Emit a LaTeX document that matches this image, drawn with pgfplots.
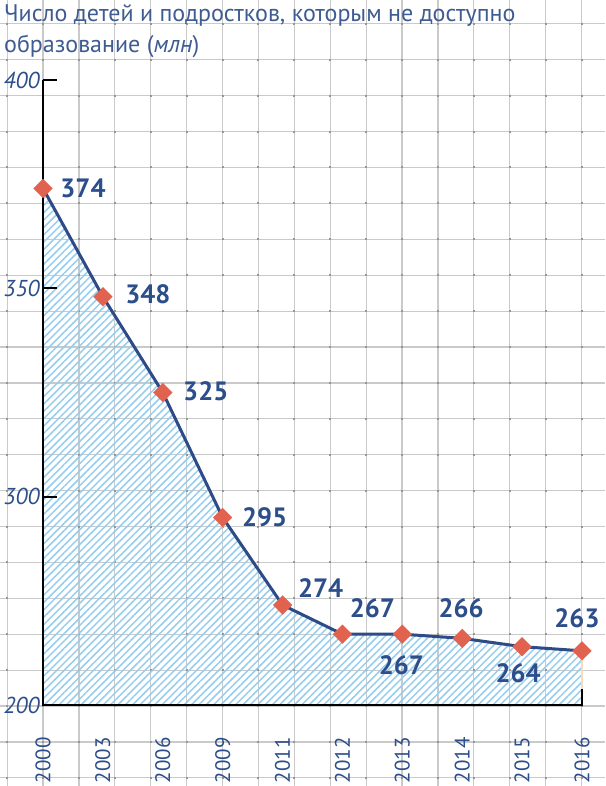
\documentclass[border=0pt]{standalone}
\usepackage{fontspec}
\setmainfont{PT Sans}
\usepackage{pgfplots}
\pgfplotsset{compat=1.18}
\usetikzlibrary{patterns.meta}
\definecolor{gridc}{RGB}{202,202,202}
\definecolor{dotc}{RGB}{150,150,150}
\definecolor{lineblue}{RGB}{45,75,135}
\definecolor{labblue}{RGB}{44,78,138}
\definecolor{titleblue}{RGB}{62,92,145}
\definecolor{markred}{RGB}{226,98,80}
\definecolor{hatch}{RGB}{150,205,238}
\definecolor{peach}{RGB}{245,220,190}
\tikzset{lab/.style={font=\fontsize{26.5}{30}\selectfont\bfseries, text=labblue, inner sep=0pt, anchor=center}}
\begin{document}
\begin{tikzpicture}
\useasboundingbox (0,-786pt) rectangle (605pt,0);
\clip (0,-786pt) rectangle (605pt,0);
\foreach \k in {-1,...,16} { \draw[gridc, line width=1.2pt] ({43pt+\k*35.9pt},0) -- ({43pt+\k*35.9pt},-786pt); }
\foreach \k in {-3,...,20} { \draw[gridc, line width=1.2pt] (0,{-706pt+\k*35.9pt}) -- (605pt,{-706pt+\k*35.9pt}); }
\foreach \i in {-1,...,16} { \foreach \j in {-2,...,19} { \fill[dotc] ({43pt+\i*35.9pt-1pt},{-706pt+\j*35.9pt-1pt}) rectangle ++(2pt,2pt); } }
\node[anchor=base west, inner sep=0pt, text=titleblue, font=\fontsize{24}{28}\selectfont] at (4pt,-22pt) {Число детей и подростков, которым не доступно};
\node[anchor=base west, inner sep=0pt, text=titleblue, font=\fontsize{24}{28}\selectfont] at (4pt,-53pt) {образование (\textit{млн})};
\begin{axis}[at={(43pt,-705pt)}, anchor=south west, scale only axis,
  width=539pt, height=625pt, xmin=0, xmax=9, ymin=250, ymax=400, clip=false,
  axis x line*=bottom, axis y line*=left, axis line style={draw=none},
  xtick={0,...,9}, xticklabels={2000,2003,2006,2009,2011,2012,2013,2014,2015,2016},
  xtick style={draw=none},
  xticklabel style={rotate=90, anchor=east, font=\fontsize{21}{24}\selectfont, text=labblue},
  xticklabel shift=29pt,
  ytick={250,300,350,400}, yticklabels={200,300,350,400},
  ytick style={draw=none},
  yticklabel style={font=\fontsize{23}{26}\selectfont\itshape, text=labblue, anchor=east},
  yticklabel shift=0pt,
]
\addplot[draw=none, pattern={Lines[angle=45,distance=5.2pt,line width=1.5pt]}, pattern color=hatch]
  coordinates {(0,250) (0,374) (1,348) (2,325) (3,295) (4,274) (5,267) (6,267) (7,266) (8,264) (9,263) (9,250)} -- cycle;
\draw[peach, line width=1.5pt] (axis cs:9,263) -- (axis cs:9,250);
\draw[black, line width=2.4pt] (axis cs:0,400) -- (axis cs:0,250) -- (axis cs:9,250) -- ([yshift=16pt]axis cs:9,250);
\draw[black, line width=2.2pt] (axis cs:0,400) -- ([xshift=14pt]axis cs:0,400);
\draw[black, line width=2.2pt] (axis cs:0,350) -- ([xshift=14pt]axis cs:0,350);
\draw[black, line width=2.2pt] (axis cs:0,300) -- ([xshift=14pt]axis cs:0,300);
\addplot[lineblue, line width=3pt, mark=square*, mark size=6.7pt, mark options={rotate=45, fill=markred, draw=markred, line width=0.1pt}]
  coordinates {(0,374) (1,348) (2,325) (3,295) (4,274) (5,267) (6,267) (7,266) (8,264) (9,263)};
\node[lab, xshift=40pt] at (axis cs:0,374) {374};
\node[lab, xshift=45pt, yshift=2pt] at (axis cs:1,348) {348};
\node[lab, xshift=43pt, yshift=1pt] at (axis cs:2,325) {325};
\node[lab, xshift=42pt] at (axis cs:3,295) {295};
\node[lab, xshift=38pt, yshift=17pt] at (axis cs:4,274) {274};
\node[lab, xshift=30pt, yshift=26pt] at (axis cs:5,267) {267};
\node[lab, xshift=-1pt, yshift=-31pt] at (axis cs:6,267) {267};
\node[lab, xshift=-1pt, yshift=30pt] at (axis cs:7,266) {266};
\node[lab, xshift=-4pt, yshift=-27pt] at (axis cs:8,264) {264};
\node[lab, xshift=-5pt, yshift=33pt] at (axis cs:9,263) {263};
\end{axis}
\end{tikzpicture}
\end{document}
